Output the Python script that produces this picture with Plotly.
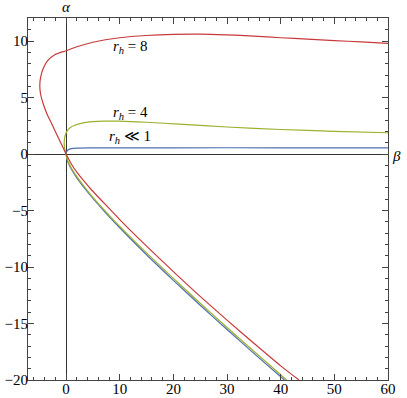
import plotly.graph_objects as go

# ---- data ----
red_up_beta  = [0, -0.8, -1.7, -2.7, -3.6, -4.3, -4.75, -4.9, -4.75, -4.25, -3.4, -2.1, 0, 2, 5, 10, 15, 20, 25, 30, 35, 40, 45, 50, 55, 60]
red_up_alpha = [0, 0.8, 1.7, 2.7, 3.6, 4.5, 5.3, 6.0, 6.8, 7.6, 8.3, 8.8, 9.15, 9.5, 9.9, 10.3, 10.5, 10.6, 10.62, 10.55, 10.45, 10.3, 10.18, 10.05, 9.93, 9.8]
red_lo_beta  = [0, 1, 2, 3, 4.8, 7, 10, 15, 20, 25, 30, 35, 40, 43.4]
red_lo_alpha = [0, -0.9, -1.6, -2.2, -3.2, -4.3, -5.8, -8.15, -10.4, -12.6, -14.7, -16.75, -18.75, -20]

grn_up_beta  = [0, -0.3, -0.35, -0.2, 0.2, 0.8, 1.6, 3, 5, 7, 10, 15, 21, 30, 40, 50, 60]
grn_up_alpha = [0, 0.6, 1.1, 1.6, 2.05, 2.35, 2.55, 2.75, 2.87, 2.92, 2.92, 2.82, 2.65, 2.4, 2.18, 2.02, 1.89]
grn_lo_beta  = [0, 0.25, 1, 2, 4, 7, 10, 15, 20, 25, 30, 35, 41.1]
grn_lo_alpha = [0, -0.55, -1.25, -2.0, -3.25, -4.9, -6.4, -8.75, -11.0, -13.2, -15.35, -17.45, -20]

blu_up_beta  = [0, 0.1, 0.4, 1, 2, 5, 20, 40, 60]
blu_up_alpha = [0, 0.2, 0.38, 0.48, 0.53, 0.55, 0.56, 0.56, 0.56]
blu_lo_beta  = [0, 0.25, 1, 2, 4, 7, 10, 15, 20, 25, 30, 35, 40.7]
blu_lo_alpha = [0, -0.59, -1.34, -2.1, -3.35, -5.0, -6.52, -8.91, -11.18, -13.38, -15.53, -17.64, -20]

labels = ["<i>r</i><sub><i>h</i></sub> = 8", "<i>r</i><sub><i>h</i></sub> = 4", "<i>r</i><sub><i>h</i></sub> ≪ 1"]
label_beta = [12, 12, 12]
label_alpha = [9.45, 3.6, 1.55]

x_ticks = [0, 10, 20, 30, 40, 50, 60]
y_ticks = [-20, -15, -10, -5, 0, 5, 10]

RED = "#c83a3a"
GRN = "#9cb02e"
BLU = "#4d6fae"
SERIF = "Liberation Serif"

fig = go.Figure()
for bx, ay, c in [
    (blu_lo_beta, blu_lo_alpha, BLU), (grn_lo_beta, grn_lo_alpha, GRN), (red_lo_beta, red_lo_alpha, RED),
    (blu_up_beta, blu_up_alpha, BLU), (grn_up_beta, grn_up_alpha, GRN), (red_up_beta, red_up_alpha, RED),
]:
    fig.add_trace(go.Scatter(x=bx, y=ay, mode="lines", line=dict(color=c, width=1.2, shape="spline", smoothing=0.8),
                             showlegend=False, hoverinfo="skip", cliponaxis=True))

for t, bx, ay in zip(labels, label_beta, label_alpha):
    fig.add_annotation(x=bx, y=ay, text=t, showarrow=False, font=dict(family=SERIF, size=15, color="black"))

fig.add_annotation(x=0, y=1.0, xref="x", yref="paper", yanchor="bottom", yshift=1, text="<i>α</i>",
                   showarrow=False, font=dict(family=SERIF, size=15, color="black"))
fig.add_annotation(x=1.0, y=0, xref="paper", yref="y", xanchor="left", xshift=2, yshift=-2, text="<i>β</i>",
                   showarrow=False, font=dict(family=SERIF, size=15, color="black"))

axis_common = dict(showgrid=False, zeroline=True, zerolinecolor="#333333", zerolinewidth=1.2,
                   showline=True, linecolor="#444444", linewidth=1, mirror="ticks",
                   ticks="inside", ticklen=6, tickcolor="#444444", tickwidth=1, automargin=False,
                   tickfont=dict(family=SERIF, size=15, color="black"))

fig.update_xaxes(range=[-7.1, 60], tickvals=x_ticks, ticktext=[str(v) for v in x_ticks], ticklabelstandoff=-5,
                 minor=dict(tickvals=[v for v in range(-6, 60, 2) if v % 10 != 0], ticks="inside", ticklen=3, tickcolor="#444444"),
                 **axis_common)
fig.update_yaxes(range=[-20, 12.05], tickvals=y_ticks, ticktext=[("−" + str(-v)) if v < 0 else str(v) for v in y_ticks],
                 ticklabelstandoff=-4,
                 minor=dict(tickvals=[v for v in range(-19, 13) if v % 5 != 0], ticks="inside", ticklen=3, tickcolor="#444444"),
                 **axis_common)

fig.update_layout(width=407, height=398, margin=dict(l=28, r=19, t=18, b=18),
                  plot_bgcolor="white", paper_bgcolor="white", showlegend=False)

# remove the default 8px page margin so the figure fills the window exactly
fig.write_html("out.html", config={"displayModeBar": False},
               post_script="document.body.style.margin='0';document.body.style.overflow='hidden';")
